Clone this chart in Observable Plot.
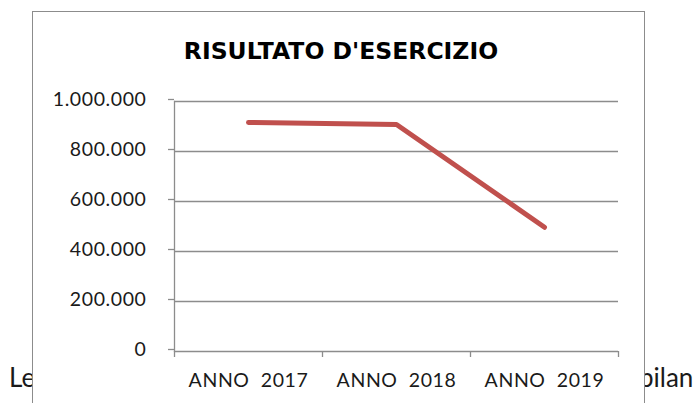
<!DOCTYPE html>
<html><head><meta charset="utf-8">
<script src="https://cdn.jsdelivr.net/npm/d3@7"></script>
<script src="https://cdn.jsdelivr.net/npm/@observablehq/plot@0.6"></script>
<style>
body{margin:0;background:#fff;}
#wrap{position:relative;width:698px;height:403px;overflow:hidden;font-family:Lato,sans-serif;}
.bg{position:absolute;top:364px;font-size:26px;color:#1a1a1a;font-family:Lato,sans-serif;line-height:1;white-space:nowrap;}
#box{position:absolute;left:32px;top:11px;width:611px;height:430px;border:1.5px solid #8c8c8c;background:#fff;}
#title{position:absolute;left:0;width:682px;top:40px;text-align:center;font:700 23.5px "DejaVu Sans",sans-serif;color:#000;line-height:1;}
#chart{position:absolute;left:0;top:0;}
</style></head>
<body>
<div id="wrap">
  <span class="bg" style="left:9px">Le</span>
  <span class="bg" style="left:639px">bilan</span>
  <div id="box"></div>
  <div id="title"></div>
  <div id="chart"></div>
</div>
<script>
const title = "RISULTATO D'ESERCIZIO";
const categories = ["ANNO  2017", "ANNO  2018", "ANNO  2019"];
const values = [916000, 908000, 497000];
const yTicks = [0, 200000, 400000, 600000, 800000, 1000000];

document.getElementById("title").textContent = title;
const it = d3.formatLocale({decimal: ",", thousands: ".", grouping: [3], currency: ["", "€"]});
const fmt = it.format(",d");
const data = categories.map((c, i) => ({pos: i + 0.5, label: c, value: values[i]}));
const gray = "#8c8c8c";

const chart = Plot.plot({
  width: 698,
  height: 403,
  marginLeft: 174,
  marginRight: 80,
  marginTop: 101,
  marginBottom: 52,
  style: {background: "transparent", fontFamily: "Lato, sans-serif", fontSize: "19.5px", color: "#1a1a1a", letterSpacing: "0.6px"},
  x: {type: "linear", domain: [0, categories.length], axis: null},
  y: {domain: [0, 1000000], axis: null},
  marks: [
    Plot.gridY(yTicks, {stroke: gray, strokeOpacity: 1, strokeWidth: 1.3}),
    Plot.frame({anchor: "left", stroke: gray, strokeWidth: 1.3}),
    Plot.axisY({ticks: yTicks, tickFormat: fmt, label: null, tickSize: 6, tickPadding: 22, dy: -2, stroke: gray, strokeWidth: 1.3, fill: "#1a1a1a", fontSize: 19.5}),
    Plot.axisX({ticks: d3.range(0, categories.length + 1), tickFormat: () => "", label: null, tickSize: 6, stroke: gray, strokeWidth: 1.3}),
    Plot.axisX({ticks: data.map(d => d.pos), tickFormat: v => categories[Math.floor(v)], label: null, tickSize: 0, tickPadding: 22, fill: "#1a1a1a", fontSize: 19.5}),
    Plot.line(data, {x: "pos", y: "value", stroke: "#c0504d", strokeWidth: 5, strokeLinecap: "round", strokeLinejoin: "round"})
  ]
});
chart.querySelectorAll("text").forEach(t => t.style.whiteSpace = "pre");
document.getElementById("chart").appendChild(chart);
</script>
</body></html>
